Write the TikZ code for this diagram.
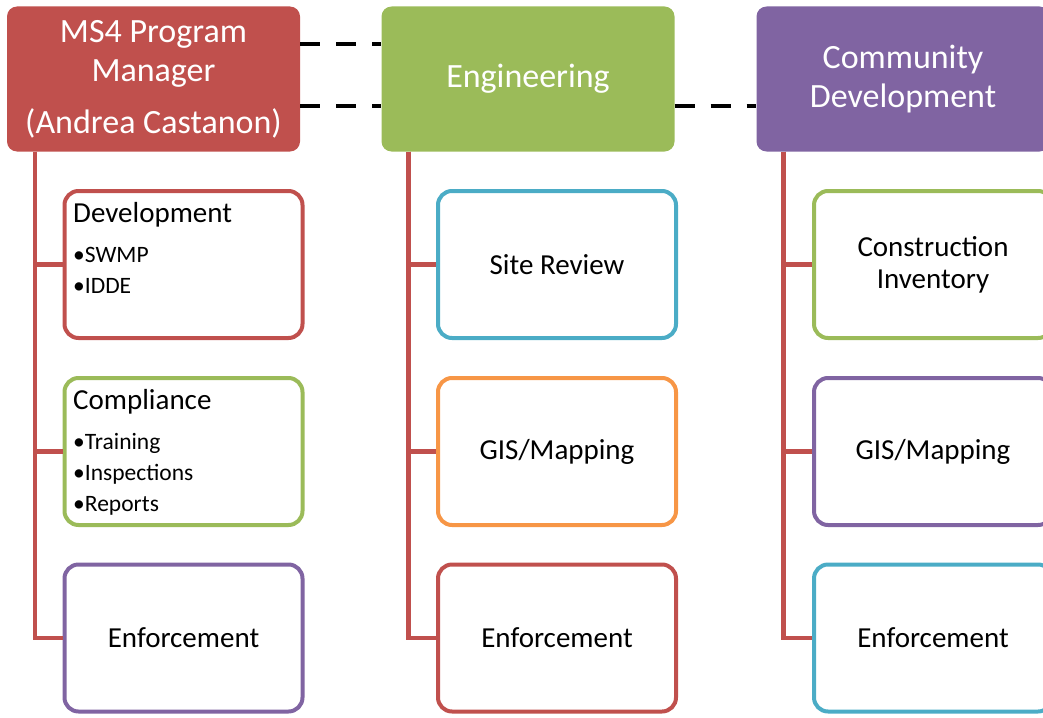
\documentclass[tikz,border=0pt]{standalone}
\usepackage{fontspec}
\setmainfont{Carlito}
\definecolor{msred}{HTML}{C0504D}
\definecolor{msgreen}{HTML}{9BBB59}
\definecolor{mspurple}{HTML}{8064A2}
\definecolor{msblue}{HTML}{4BACC6}
\definecolor{msorange}{HTML}{F79646}
\begin{document}
\begin{tikzpicture}[x=1pt,y=1pt,
    head/.style={fill=#1, rounded corners=10pt, minimum width=293pt, minimum height=145pt,
      inner sep=0pt, text=white, align=center, font=\fontsize{34}{39}\selectfont},
    unit/.style={draw=#1, line width=4pt, rounded corners=14pt, minimum width=238pt,
      minimum height=147pt, inner sep=0pt, align=center, font=\fontsize{29}{32}\selectfont},
    duties/.style={text width=200pt, inner sep=0pt, anchor=base west, align=left,
      font=\fontsize{23.5}{31}\selectfont},
    trunk/.style={draw=msred, line width=4.5pt},
    dashline/.style={draw=black, line width=4.5pt, dash pattern=on 20pt off 16pt}]
      \clip (0,0) rectangle (1043,-717);
      \draw
        (153.5,-79) node[head=msred] (mgr){MS4 Program\\Manager\\[13pt](Andrea Castanon)}
        (528,-79) node[head=msgreen] (eng){Engineering}
        (903,-79) node[head=mspurple] (cd){Community\\Development};
      \draw
        (183.5,-264.5) node[unit=msred] (dev){}
        (183.5,-451.5) node[unit=msgreen] (comp){}
        (183.5,-638) node[unit=mspurple] (enfa){Enforcement}
        (557,-264.5) node[unit=msblue] (site){Site Review}
        (557,-451.5) node[unit=msorange] (gisa){GIS/Mapping}
        (557,-638) node[unit=msred] (enfb){Enforcement}
        (933,-264.5) node[unit=msgreen] (inv){Construction\\Inventory}
        (933,-451.5) node[unit=mspurple] (gisb){GIS/Mapping}
        (933,-638) node[unit=msblue] (enfc){Enforcement};
      \draw
        (73,-222) node[duties] (devlist){{\fontsize{29}{35}\selectfont Development}\\[9pt]•SWMP\\•IDDE}
        (73,-409) node[duties] (complist){{\fontsize{29}{35}\selectfont Compliance}\\[9pt]•Training\\•Inspections\\•Reports};
      \begin{scope}[trunk]
        \draw ([xshift=28pt]mgr.south west) |- (dev.west);
        \draw ([xshift=28pt]mgr.south west) |- (comp.west);
        \draw ([xshift=28pt]mgr.south west) |- (enfa.west);
        \draw ([xshift=27pt]eng.south west) |- (site.west);
        \draw ([xshift=27pt]eng.south west) |- (gisa.west);
        \draw ([xshift=27pt]eng.south west) |- (enfb.west);
        \draw ([xshift=27pt]cd.south west) |- (inv.west);
        \draw ([xshift=27pt]cd.south west) |- (gisb.west);
        \draw ([xshift=27pt]cd.south west) |- (enfc.west);
      \end{scope}
      \begin{scope}[dashline]
        \draw ([yshift=35pt]mgr.east) to ([yshift=35pt]eng.west);
        \draw ([yshift=-27pt]mgr.east) to ([yshift=-27pt]eng.west);
        \draw ([yshift=-27pt]eng.east) to ([yshift=-27pt]cd.west);
      \end{scope}
    \end{tikzpicture}
\end{document}
